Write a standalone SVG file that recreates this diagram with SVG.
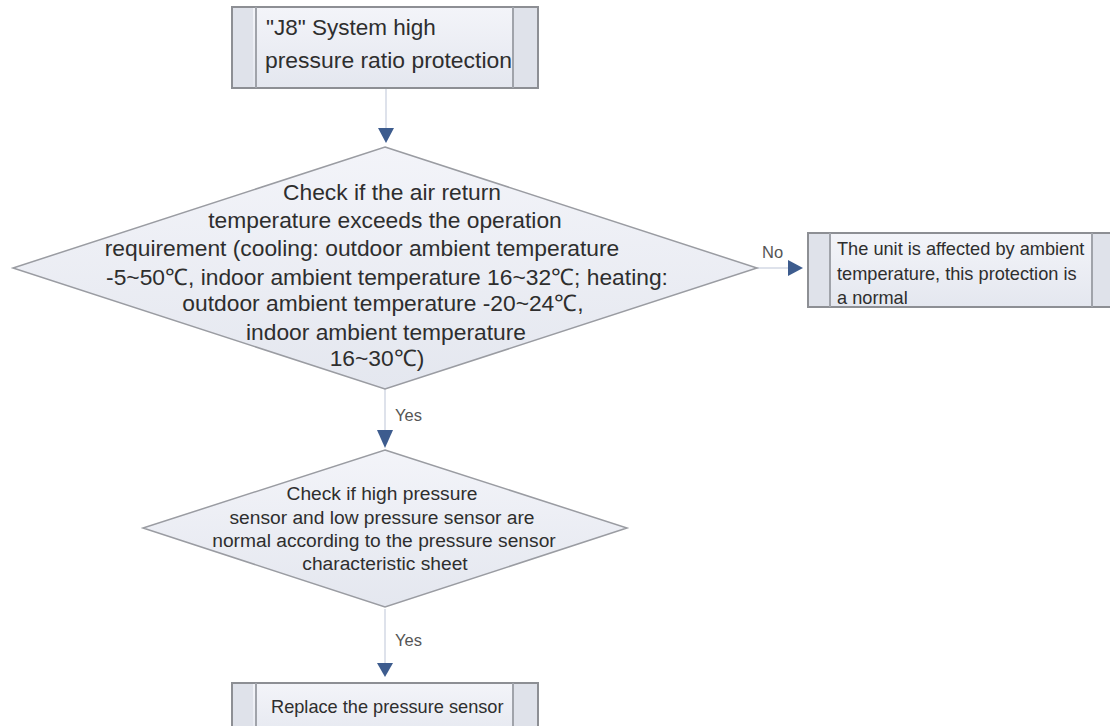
<svg xmlns="http://www.w3.org/2000/svg" width="1110" height="726" viewBox="0 0 1110 726">
<defs>
<linearGradient id="g" x1="0" y1="0" x2="0" y2="1">
<stop offset="0" stop-color="#f3f4f9"/>
<stop offset="1" stop-color="#e4e7ef"/>
</linearGradient>
<style>
.box{fill:url(#g);stroke:#8d8f94;stroke-width:2}
.band{fill:#dfe2ea;stroke:none}
.inner{stroke:#a0a3aa;stroke-width:2}
.dia{fill:url(#g);stroke:#9a9ca2;stroke-width:1.5}
.t{font-family:"Liberation Sans",Arial,sans-serif;fill:#2e2e2e;}
.conn{stroke:#d3d9e5;stroke-width:1.5;fill:none}
.head{fill:#3d5c8e}
.lbl{font-family:"Liberation Sans",Arial,sans-serif;fill:#555;font-size:16.5px}
</style>
</defs>
<rect width="1110" height="726" fill="#fff"/>

<g id="connectors">
<line class="conn" x1="386" y1="89" x2="386" y2="130"/>
<path class="head" d="M378,128 L394,128 L386,143 z"/>
<line class="conn" x1="757" y1="268" x2="790" y2="268"/>
<path class="head" d="M788,260 L803,268 L788,276 z"/>
<text class="lbl" x="762" y="258">No</text>
<line class="conn" x1="385" y1="389" x2="385" y2="432"/>
<path class="head" d="M377,430 L393,430 L385,448 z"/>
<text class="lbl" x="395" y="421">Yes</text>
<line class="conn" x1="385" y1="609" x2="385" y2="664"/>
<path class="head" d="M377,663 L393,663 L385,677 z"/>
<text class="lbl" x="395" y="646">Yes</text>
</g>

<g id="n1">
<rect class="box" x="232" y="7" width="306" height="81"/>
<rect class="band" x="233" y="8" width="20" height="79"/>
<rect class="band" x="514" y="8" width="23" height="79"/>
<line class="inner" x1="256" y1="7" x2="256" y2="88"/>
<line class="inner" x1="513" y1="7" x2="513" y2="88"/>
<text class="t" font-size="22.5" x="266" y="35">"J8" System high</text>
<text class="t" font-size="22.5" x="265" y="68" textLength="247" lengthAdjust="spacingAndGlyphs">pressure ratio protection</text>
</g>

<g id="n2">
<polygon class="dia" points="385,147 757,268 385,389 13,268"/>
<g class="t" font-size="22.8" text-anchor="middle">
<text x="392" y="200">Check if the air return</text>
<text x="385" y="228">temperature exceeds the operation</text>
<text x="362" y="256">requirement (cooling: outdoor ambient temperature</text>
<text x="387" y="285">-5~50℃, indoor ambient temperature 16~32℃; heating:</text>
<text x="383" y="311">outdoor ambient temperature -20~24℃,</text>
<text x="386" y="340">indoor ambient temperature</text>
<text x="377" y="366">16~30℃)</text>
</g>
</g>

<g id="n3">
<rect class="box" x="808" y="233" width="310" height="74"/>
<rect class="band" x="809" y="234" width="20" height="72"/>
<rect class="band" x="1093" y="234" width="17" height="72"/>
<line class="inner" x1="830" y1="233" x2="830" y2="307"/>
<line class="inner" x1="1092" y1="233" x2="1092" y2="307"/>
<text class="t" font-size="18.2" x="837" y="255">The unit is affected by ambient</text>
<text class="t" font-size="18.2" x="837" y="280">temperature, this protection is</text>
<text class="t" font-size="18.2" x="837" y="304">a normal</text>
</g>

<g id="n4">
<polygon class="dia" points="385,450 627,528 385,607 143,528"/>
<g class="t" font-size="19.2" text-anchor="middle">
<text x="382" y="500">Check if high pressure</text>
<text x="382" y="524">sensor and low pressure sensor are</text>
<text x="384" y="547">normal according to the pressure sensor</text>
<text x="385" y="570">characteristic sheet</text>
</g>
</g>

<g id="n5">
<rect class="box" x="232" y="683" width="306" height="60"/>
<rect class="band" x="233" y="684" width="20" height="60"/>
<rect class="band" x="514" y="684" width="23" height="60"/>
<line class="inner" x1="256" y1="683" x2="256" y2="726"/>
<line class="inner" x1="513" y1="683" x2="513" y2="726"/>
<text class="t" font-size="18.2" x="271" y="713">Replace the pressure sensor</text>
</g>
</svg>
